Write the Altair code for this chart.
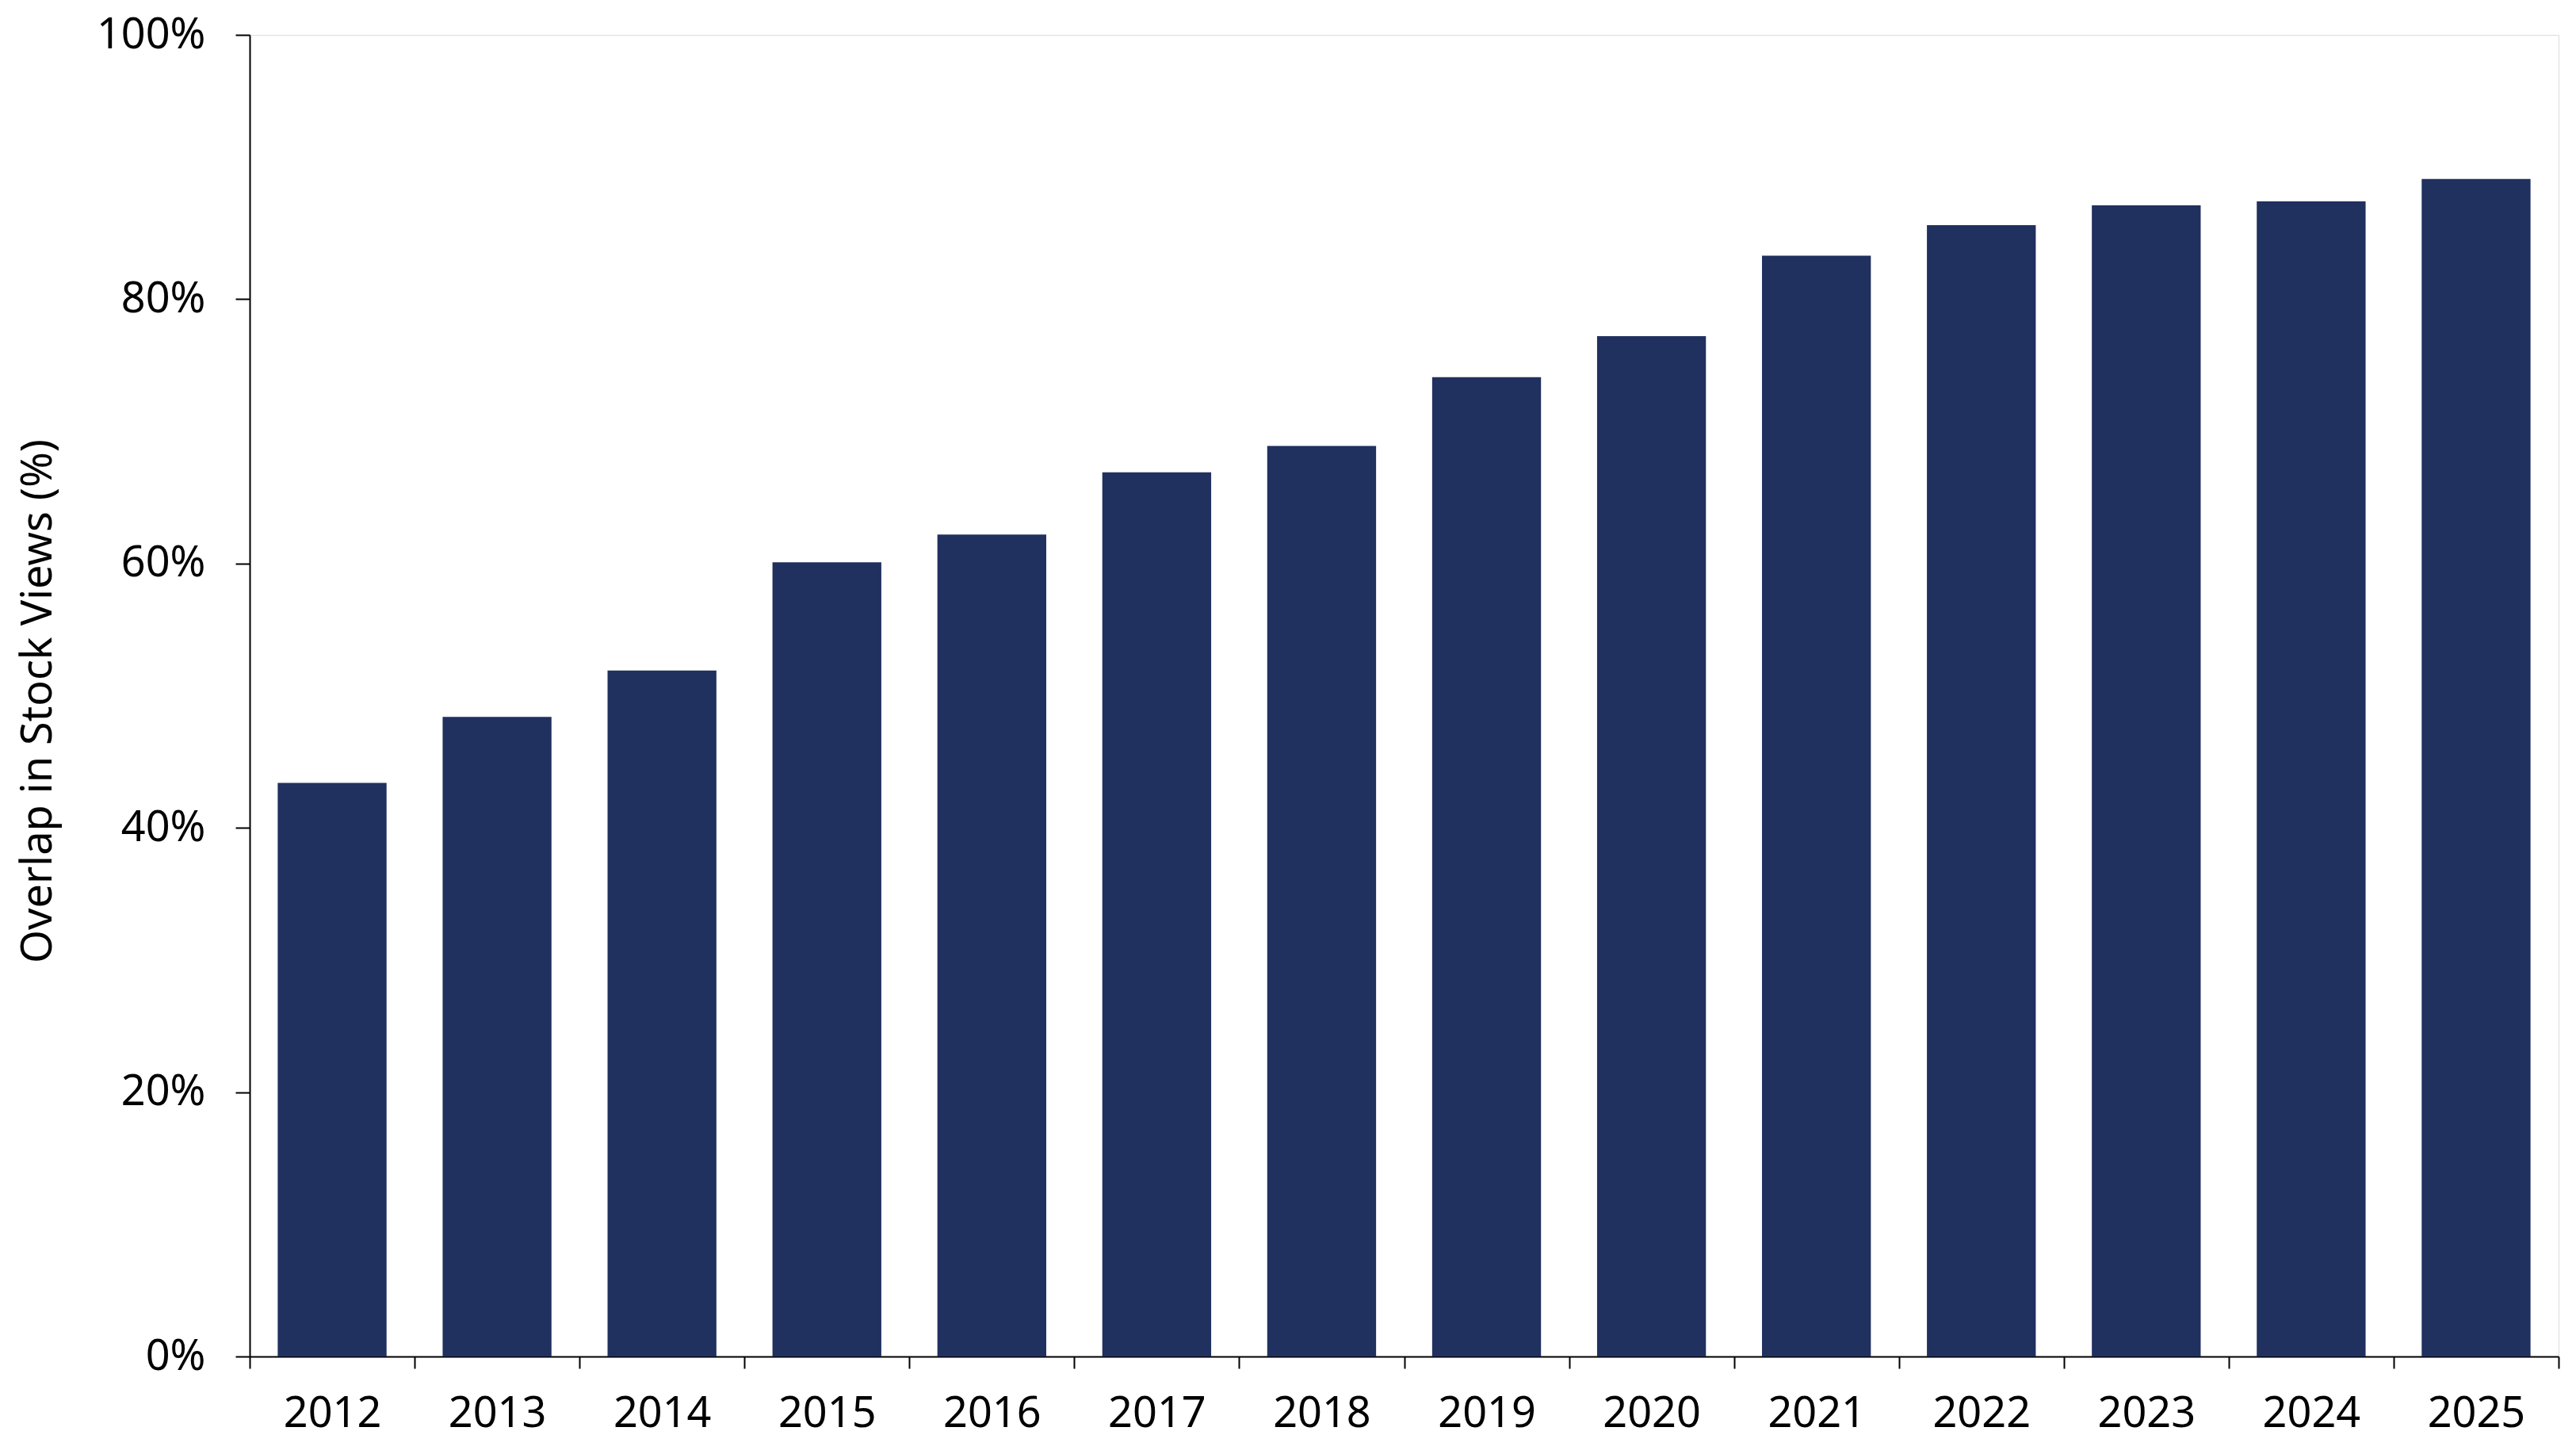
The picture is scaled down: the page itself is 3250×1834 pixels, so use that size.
import altair as alt
import pandas as pd

years = ["2012", "2013", "2014", "2015", "2016", "2017", "2018",
         "2019", "2020", "2021", "2022", "2023", "2024", "2025"]
overlap = [43.4, 48.4, 51.9, 60.1, 62.2, 66.9, 68.9,
           74.1, 77.2, 83.3, 85.6, 87.1, 87.4, 89.1]

df = pd.DataFrame({"year": years, "overlap": [v / 100 for v in overlap]})

FONT = "Noto Sans"
W, H = 2913, 1667

chart = alt.Chart(df).mark_bar(color="#20305F", width=alt.RelativeBandSize(0.66)).encode(
    x=alt.X("year:N", sort=years, title=None,
            scale=alt.Scale(paddingInner=0, paddingOuter=0),
            axis=alt.Axis(labelAngle=0, tickBand="extent", tickSize=15,
                          labelPadding=30, labelFontSize=54, labelFont=FONT,
                          labelColor="#000000", domainColor="#000000",
                          tickColor="#000000", domainWidth=2, tickWidth=2,
                          grid=False)),
    y=alt.Y("overlap:Q", title="Overlap in Stock Views (%)",
            scale=alt.Scale(domain=[0, 1], nice=False),
            axis=alt.Axis(format=".0%", values=[0, 0.2, 0.4, 0.6, 0.8, 1.0],
                          tickSize=18, labelPadding=38, labelFontSize=54,
                          labelFont=FONT, labelColor="#000000",
                          domainColor="#000000", tickColor="#000000",
                          domainWidth=2, tickWidth=2, grid=False,
                          titleFont=FONT, titleFontSize=54,
                          titleFontWeight="normal", titleColor="#000000",
                          titleX=-267, titleY=840, titleAngle=-90,
                          titleAlign="center", titleBaseline="middle")),
).properties(
    width=W, height=H,
    autosize=alt.AutoSizeParams(type="none"),
    padding={"left": 307, "top": 36, "right": 14, "bottom": 116},
).configure_view(stroke=None).configure(background="white")

chart.save("out.html", embed_options={"renderer": "svg", "actions": False})
